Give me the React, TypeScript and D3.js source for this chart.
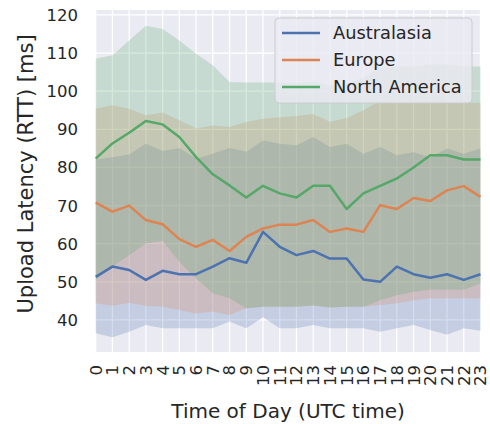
import React from "react";
import * as d3 from "d3";

const hours = d3.range(0, 24);
const seriesNames = ["Australasia", "Europe", "North America"];
const seriesColors = ["#4c72b0", "#dd8452", "#55a868"];

const ausMedian = [51.3, 54, 53.1, 50.5, 52.9, 52, 52, 54, 56.2, 55, 63.1, 59.2, 57, 58.1, 56.1, 56.1, 50.6, 50, 54, 52, 51.1, 52, 50.5, 52];
const ausLow = [36.5, 35.5, 36.9, 38.7, 37.8, 37.8, 37.8, 37.8, 39.6, 37.8, 40.7, 37.8, 37.8, 38.7, 37.8, 37.8, 37.8, 36.9, 37.8, 38.7, 37.4, 36.1, 37.8, 37.2];
const ausHigh = [82.1, 82.7, 83.4, 86.2, 84.3, 85.1, 82.3, 83.6, 85.1, 84.1, 87.1, 86.2, 85.8, 88, 85.4, 86.2, 83.6, 85.4, 83.2, 84, 82.7, 85, 83.6, 85];

const eurMedian = [70.8, 68.4, 70, 66.2, 65.1, 61.2, 59.2, 61, 58.1, 61.8, 64, 65, 65, 66.2, 63.1, 64, 63.1, 70.1, 69.1, 72, 71.2, 74, 75.1, 72.3];
const eurLow = [44.4, 43.7, 44.5, 43.7, 43.5, 42.6, 41.7, 42.2, 41.3, 43.1, 43.5, 43.5, 43.5, 43.8, 43.3, 43.5, 43.5, 43.9, 44.4, 45.2, 45.7, 45.7, 45.7, 45.7];
const eurHigh = [95.4, 96.3, 95.4, 93.7, 94.4, 92.4, 90.2, 91, 90.6, 91.9, 92.8, 93.2, 93.5, 94, 92, 93, 95, 97.5, 97, 97, 97.5, 97, 97, 97];

const naMedian = [82.3, 86.3, 89.1, 92.2, 91.3, 88, 82.7, 78.2, 75.3, 72.1, 75.2, 73.2, 72.1, 75.2, 75.2, 69.1, 73.2, 75.2, 77.1, 80, 83.2, 83.2, 82.1, 82.1];
const naLow = [50.5, 54, 57, 60.1, 60.8, 55.3, 50.9, 47, 45.7, 43.1, 43.5, 43.5, 43.5, 43.8, 43.3, 43.5, 43.5, 45.2, 46.5, 47.4, 47.9, 47.9, 47.9, 49.6];
const naHigh = [108.5, 109.4, 113.3, 117.2, 116.3, 113.3, 109.8, 106.8, 102.4, 102.3, 102.3, 102.3, 102, 102.5, 101.5, 102, 103.5, 106, 106.5, 106.5, 107, 107, 106.5, 106.5];

const yTicks = [40, 50, 60, 70, 80, 90, 100, 110, 120];
const xLabel = "Time of Day (UTC time)";
const yLabel = "Upload Latency (RTT) [ms]";

const W = 490;
const H = 424;
const left = 95.7;
const right = 480.5;
const top = 10;
const bottom = 352;
const font = "DejaVu Sans, sans-serif";
const textColor = "#262626";

export default function App() {
  const x = d3.scaleLinear().domain([0, 23]).range([left, right]);
  const y = d3.scaleLinear().domain([31.6, 121.3]).range([bottom, top]);

  const medians = [ausMedian, eurMedian, naMedian];
  const lows = [ausLow, eurLow, naLow];
  const highs = [ausHigh, eurHigh, naHigh];

  const area = (lo: number[], hi: number[]) =>
    d3
      .area<number>()
      .x((h) => x(h))
      .y0((h) => y(lo[h]))
      .y1((h) => y(hi[h]))(hours) || "";
  const line = (m: number[]) =>
    d3
      .line<number>()
      .x((h) => x(h))
      .y((h) => y(m[h]))(hours) || "";

  return (
    <svg width={W} height={H} style={{ position: "absolute", left: 0, top: 0 }}>
      <rect x={0} y={0} width={W} height={H} fill="#ffffff" />
      <rect x={left} y={top} width={right - left} height={bottom - top} fill="#eaeaf2" />
      {hours.map((h) => (
        <line key={"gx" + h} x1={x(h)} x2={x(h)} y1={top} y2={bottom} stroke="#ffffff" strokeWidth={1.3} />
      ))}
      {yTicks.map((t) => (
        <line key={"gy" + t} x1={left} x2={right} y1={y(t)} y2={y(t)} stroke="#ffffff" strokeWidth={1.3} />
      ))}
      {seriesNames.map((n, i) => (
        <path key={"a" + n} d={area(lows[i], highs[i])} fill={seriesColors[i]} fillOpacity={0.24} />
      ))}
      {seriesNames.map((n, i) => (
        <path key={"l" + n} d={line(medians[i])} fill="none" stroke={seriesColors[i]} strokeWidth={2.5} strokeLinejoin="round" />
      ))}
      {yTicks.map((t) => (
        <text key={"ty" + t} x={78} y={y(t)} dy="0.36em" textAnchor="end" fontFamily={font} fontSize={16.5} fill={textColor}>
          {t}
        </text>
      ))}
      {hours.map((h) => (
        <text
          key={"tx" + h}
          transform={`translate(${x(h)},${365}) rotate(-90)`}
          dy="0.36em"
          textAnchor="end"
          fontFamily={font}
          fontSize={16.5}
          fill={textColor}
        >
          {h}
        </text>
      ))}
      <text x={(left + right) / 2} y={418} textAnchor="middle" fontFamily={font} fontSize={20} fill={textColor}>
        {xLabel}
      </text>
      <text transform={`translate(33,174) rotate(-90)`} textAnchor="middle" fontFamily={font} fontSize={21} fill={textColor}>
        {yLabel}
      </text>
      <g>
        <rect x={275} y={18} width={197} height={85} rx={4} fill="#eaeaf2" fillOpacity={0.8} stroke="#cccccc" strokeWidth={1} />
        {seriesNames.map((n, i) => (
          <g key={"lg" + n}>
            <line x1={282} x2={320} y1={33 + i * 27} y2={33 + i * 27} stroke={seriesColors[i]} strokeWidth={2.5} />
            <text x={333} y={33 + i * 27} dy="0.36em" fontFamily={font} fontSize={17.8} fill={textColor}>
              {n}
            </text>
          </g>
        ))}
      </g>
    </svg>
  );
}
